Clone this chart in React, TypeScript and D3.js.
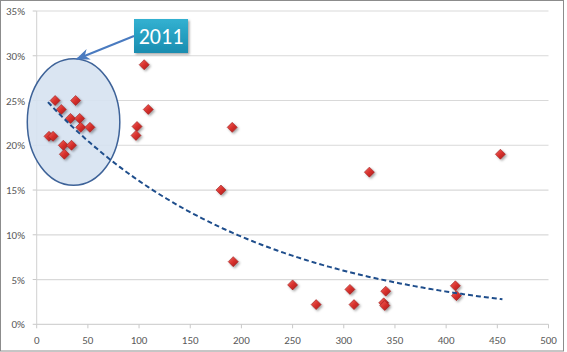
import React from "react";
import * as d3 from "d3";

const xValues = [18, 38, 24, 33, 42, 43, 52, 12, 16, 26, 34, 27, 105, 109, 98, 97, 191, 180, 192, 250, 273, 306, 310, 325, 341, 339, 340, 409, 410, 453];
const yValues = [25, 25, 24, 23, 23, 22, 22, 21, 21, 20, 20, 19, 29, 24, 22.1, 21.1, 22, 15, 7, 4.4, 2.2, 3.9, 2.2, 17, 3.7, 2.4, 2.1, 4.3, 3.2, 19];
const xTicks = [0, 50, 100, 150, 200, 250, 300, 350, 400, 450, 500];
const yTicks = [0, 5, 10, 15, 20, 25, 30, 35];
// exponential trendline y = a * exp(b x)
const trendA = 26.2;
const trendB = -0.00492;
const trendRange = [11, 455];
const calloutLabel = "2011";
// highlighted region (data units)
const ellipseCenter = [36, 22.6];
const ellipseRadii = [45.2, 7.07];

const W = 567;
const H = 352;

export default function App() {
  const x = d3.scaleLinear().domain([0, 500]).range([36.7, 548.5]);
  const y = d3.scaleLinear().domain([0, 35]).range([324.3, 11]);
  const trendPts = d3.range(trendRange[0], trendRange[1] + 0.1, 2).map((v) => [v, trendA * Math.exp(trendB * v)] as [number, number]);
  const line = d3.line<[number, number]>().x((d) => x(d[0])).y((d) => y(d[1]));
  const font = "Calibri, Carlito, 'Open Sans', 'Liberation Sans', sans-serif";
  const cx = x(ellipseCenter[0]);
  const cy = y(ellipseCenter[1]);
  const rx = x(ellipseCenter[0] + ellipseRadii[0]) - cx;
  const ry = cy - y(ellipseCenter[1] + ellipseRadii[1]);
  const pts = xValues.map((v, i) => [v, yValues[i]]);
  return (
    <svg width={W} height={H} style={{ position: "fixed", left: 0, top: 0, background: "#fff" }} fontFamily={font}>
      <defs>
        <linearGradient id="dg" x1="0" y1="0" x2="1" y2="1">
          <stop offset="0" stopColor="#f06a62" />
          <stop offset="0.5" stopColor="#d8302c" />
          <stop offset="1" stopColor="#a51d1d" />
        </linearGradient>
        <linearGradient id="bg" x1="0" y1="0" x2="0" y2="1">
          <stop offset="0" stopColor="#33b1d1" />
          <stop offset="1" stopColor="#1a8db0" />
        </linearGradient>
        <marker id="ah" viewBox="0 0 10 10" refX="9" refY="5" markerWidth="7" markerHeight="7" orient="auto">
          <path d="M0,1 L10,5 L0,9 L3,5 Z" fill="#4a7bc0" />
        </marker>
        <filter id="sh" x="-50%" y="-50%" width="200%" height="200%">
          <feDropShadow dx="1.5" dy="1.5" stdDeviation="0.8" floodColor="#000" floodOpacity="0.35" />
        </filter>
      </defs>
      <rect x={0.5} y={0.5} width={563} height={350.5} fill="#fff" stroke="#8c8c8c" />
      {yTicks.map((t) => (
        <g key={"y" + t}>
          {t > 0 && <line x1={x(0)} x2={x(500)} y1={y(t)} y2={y(t)} stroke="#d9d9d9" strokeWidth={1.2} />}
          <line x1={x(0) - 4} x2={x(0)} y1={y(t)} y2={y(t)} stroke="#c8c8c8" />
          <text x={25} y={y(t) + 4} textAnchor="end" fontSize={11} fill="#595959">{t + "%"}</text>
        </g>
      ))}
      <line x1={x(0)} x2={x(0)} y1={y(0)} y2={y(35)} stroke="#d0d0d0" />
      <line x1={x(0)} x2={x(500)} y1={y(0)} y2={y(0)} stroke="#c8c8c8" />
      {xTicks.map((t) => (
        <g key={"x" + t}>
          <line x1={x(t)} x2={x(t)} y1={y(0)} y2={y(0) + 4} stroke="#c8c8c8" />
          <text x={x(t)} y={344} textAnchor="middle" fontSize={11} fill="#595959">{t}</text>
        </g>
      ))}
      <ellipse cx={cx} cy={cy} rx={rx} ry={ry} fill="#d6e2f1" fillOpacity={0.9} stroke="#3d6298" strokeWidth={1.5} />
      {pts.map((p, i) => {
        const px = x(p[0]);
        const py = y(p[1]);
        const r = 5;
        return (
          <path key={i} d={`M${px},${py - r}L${px + r},${py}L${px},${py + r}L${px - r},${py}Z`} fill="url(#dg)" stroke="#9b1c1c" strokeWidth={0.6} filter="url(#sh)" />
        );
      })}
      <path d={line(trendPts) || ""} fill="none" stroke="#1f4e8c" strokeWidth={2} strokeDasharray="5,3" />
      <line x1={134} y1={36} x2={77} y2={59} stroke="#4a7bc0" strokeWidth={2} markerEnd="url(#ah)" />
      <rect x={134} y={19} width={54} height={34} fill="url(#bg)" filter="url(#sh)" />
      <text x={161} y={44} textAnchor="middle" fontSize={22} fill="#fff">{calloutLabel}</text>
    </svg>
  );
}
